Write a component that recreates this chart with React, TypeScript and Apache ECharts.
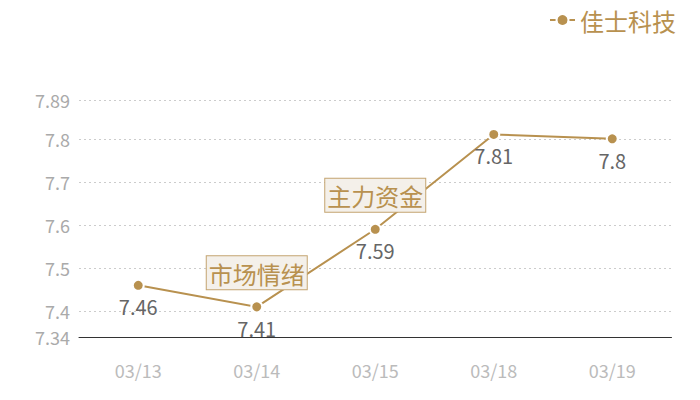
import React, { useRef, useEffect } from 'react';
import * as echarts from 'echarts';

const categories = ['03/13', '03/14', '03/15', '03/18', '03/19'];
const prices = [7.46, 7.41, 7.59, 7.81, 7.8];
const seriesName = '佳士科技';
const yMin = 7.34;
const yMax = 7.89;
const notes = [
    { date: '03/14', value: 7.41, text: '市场情绪' },
    { date: '03/15', value: 7.59, text: '主力资金' },
];

const GOLD = '#b8914f';
const FONT = '"Noto Sans CJK SC", "Noto Sans", sans-serif';

export default function App() {
    const chartRef = useRef<HTMLDivElement>(null);

    useEffect(() => {
        if (!chartRef.current) return;
        const chart = echarts.init(chartRef.current, null, { renderer: 'svg' });

        const option: echarts.EChartsOption = {
            animation: false,
            backgroundColor: '#fff',
            textStyle: { fontFamily: FONT },
            legend: {
                right: 19,
                top: 3,
                itemWidth: 25,
                itemHeight: 15,
                itemGap: 6,
                data: [seriesName],
                textStyle: { color: GOLD, fontSize: 24, fontFamily: FONT }
            },
            grid: {
                top: 100,
                left: 79,
                right: 28.5,
                bottom: 63
            },
            xAxis: {
                type: 'category',
                data: categories,
                axisLine: { show: true, lineStyle: { color: '#333', width: 1 } },
                axisTick: { show: false },
                axisLabel: {
                    color: '#bbb',
                    fontSize: 18,
                    margin: 24,
                    fontFamily: FONT
                }
            },
            yAxis: {
                type: 'value',
                min: yMin,
                max: yMax,
                splitNumber: 5,
                axisLine: { show: false },
                axisTick: { show: false },
                axisLabel: {
                    color: '#aaa',
                    fontSize: 18,
                    margin: 9,
                    fontFamily: FONT,
                    showMinLabel: true,
                    showMaxLabel: true
                },
                splitLine: {
                    show: true,
                    lineStyle: { color: '#ccc', type: [2, 3], width: 1 }
                }
            },
            series: [
                {
                    name: seriesName,
                    type: 'line',
                    data: prices,
                    symbol: 'circle',
                    symbolSize: 11,
                    showSymbol: true,
                    lineStyle: { color: GOLD, width: 2 },
                    itemStyle: { color: GOLD, borderColor: '#fff', borderWidth: 2 },
                    label: {
                        show: true,
                        position: 'bottom',
                        distance: 5,
                        color: '#666',
                        fontSize: 20,
                        fontFamily: FONT
                    },
                    markPoint: {
                        symbol: 'circle',
                        symbolSize: 1,
                        itemStyle: { color: 'transparent' },
                        label: {
                            show: true,
                            position: 'top',
                            distance: 17,
                            color: GOLD,
                            fontSize: 24,
                            lineHeight: 30,
                            fontFamily: FONT,
                            backgroundColor: '#f4f0ea',
                            borderColor: '#c4a470',
                            borderWidth: 1,
                            padding: [2, 2, 1, 2],
                            formatter: (p: any) => p.name
                        },
                        data: notes.map(n => ({
                            name: n.text,
                            coord: [n.date, n.value]
                        }))
                    }
                }
            ]
        };

        chart.setOption(option);

        return () => {
            chart.dispose();
        };
    }, []);

    return (
        <div
            ref={chartRef}
            style={{ position: 'absolute', left: 0, top: 0, width: 700, height: 400 }}
        />
    );
}
